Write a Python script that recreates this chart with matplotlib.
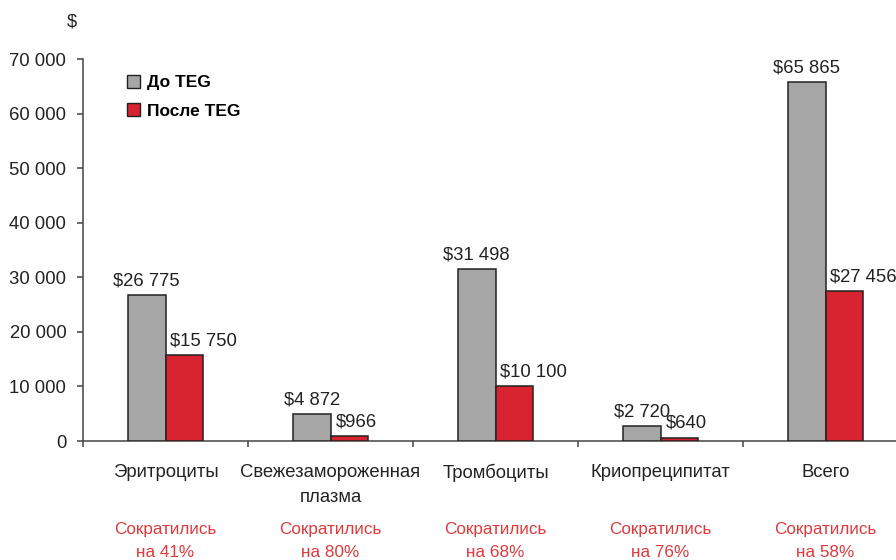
import numpy as np
import matplotlib
matplotlib.use('Agg')
import matplotlib.pyplot as plt
from matplotlib.patches import Patch
from matplotlib.transforms import blended_transform_factory

plt.rcParams['font.family'] = ['Liberation Sans', 'DejaVu Sans']

# данные
categories = ['Эритроциты', 'Свежезамороженная\nплазма', 'Тромбоциты', 'Криопреципитат', 'Всего']
before_teg = [26775, 4872, 31498, 2720, 65865]
after_teg = [15750, 966, 10100, 640, 27456]
reduction = [41, 80, 68, 76, 58]
series_names = ['До TEG', 'После TEG']
yticks = [0, 10000, 20000, 30000, 40000, 50000, 60000, 70000]

GRAY = '#a6a6a6'
RED = '#d82430'
RED_TXT = '#e03a3c'
EDGE = '#222222'
TXT = '#222222'
FS = 13.3


def fmt(v):
    return '{:,}'.format(v).replace(',', ' ')


W, H = 896, 560
fig = plt.figure(figsize=(W / 100, H / 100), dpi=100, facecolor='white')
ax = fig.add_axes([83 / W, (H - 441) / H, 825 / W, 382 / H])

x = np.arange(len(categories))
bw = 0.228
ax.bar(x - bw / 2, before_teg, bw, color=GRAY, edgecolor=EDGE, linewidth=1.1, zorder=3)
ax.bar(x + bw / 2, after_teg, bw, color=RED, edgecolor=EDGE, linewidth=1.1, zorder=3)

ax.set_xlim(-0.5, 4.5)
ax.set_ylim(0, 70000)
ax.set_yticks(yticks)
ax.set_yticklabels([fmt(v) for v in yticks], fontsize=FS, color=TXT)
ax.set_xticks(np.arange(-0.5, 5.0, 1.0))
ax.set_xticklabels([])
ax.tick_params(axis='both', direction='out', length=4, width=1.1, color='#444444')
ax.tick_params(axis='y', pad=8)

for s in ['top', 'right']:
    ax.spines[s].set_visible(False)
for s in ['left', 'bottom']:
    ax.spines[s].set_color('#444444')
    ax.spines[s].set_linewidth(1.1)

# подписи значений
for i in range(len(categories)):
    ax.annotate('$' + fmt(before_teg[i]), (x[i] - bw / 2, before_teg[i]),
                xytext=(0, 4), textcoords='offset points',
                ha='center', va='bottom', fontsize=FS, color=TXT)
    ax.annotate('$' + fmt(after_teg[i]), (x[i], after_teg[i]),
                xytext=(3.5, 4), textcoords='offset points',
                ha='left', va='bottom', fontsize=FS, color=TXT)

# подписи категорий и снижение
tr = blended_transform_factory(ax.transData, ax.transAxes)
for i, cat in enumerate(categories):
    for j, line in enumerate(cat.split('\n')):
        ax.annotate(line, (x[i], 0), xycoords=tr,
                    xytext=(0, -23 - j * 18), textcoords='offset points',
                    ha='center', va='center', fontsize=FS, color=TXT)
    ax.annotate('Сократились', (x[i], 0), xycoords=tr,
                xytext=(0, -64), textcoords='offset points',
                ha='center', va='center', fontsize=12.3, color=RED_TXT)
    ax.annotate('на {}%'.format(reduction[i]), (x[i], 0), xycoords=tr,
                xytext=(0, -80), textcoords='offset points',
                ha='center', va='center', fontsize=12.3, color=RED_TXT)

fig.text(72 / W, 1 - 22 / H, '$', fontsize=FS, ha='center', va='center', color=TXT)

handles = [Patch(facecolor=GRAY, edgecolor=EDGE, linewidth=1.0),
           Patch(facecolor=RED, edgecolor=EDGE, linewidth=1.0)]
leg = fig.legend(handles, series_names, loc='upper left',
                 bbox_to_anchor=(127 / W, 1 - 75 / H), frameon=False,
                 prop={'weight': 'bold', 'size': 12.5},
                 handlelength=0.75, handleheight=0.75, handletextpad=0.4,
                 labelspacing=0.75, borderpad=0, borderaxespad=0)

fig.savefig('out.png', dpi=100, facecolor='white')
